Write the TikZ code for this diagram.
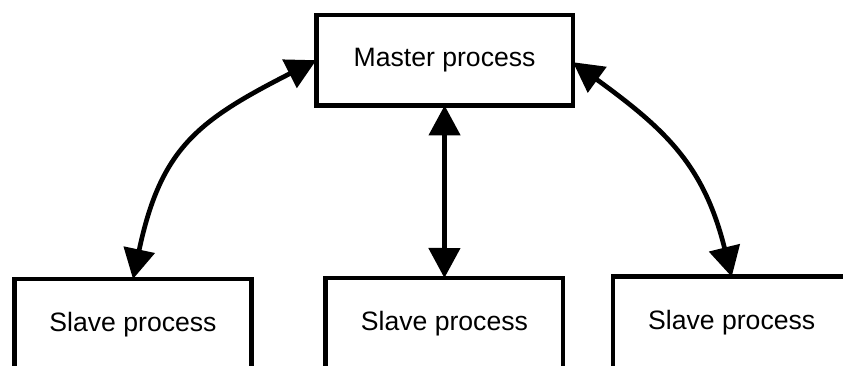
\documentclass[tikz,border=0pt]{standalone}
\usepackage{fontspec}
\setmainfont{Liberation Sans}
\usetikzlibrary{arrows.meta}
\begin{document}
\begin{tikzpicture}[x=1pt,y=1pt,
  box/.style={draw, line width=4.7pt, rectangle, outer sep=0pt, fill=white,
    font=\fontsize{26.6}{32}\selectfont},
  master/.style={box, minimum width=256.7pt, minimum height=90.5pt, inner sep=0pt},
  slave/.style={box, minimum width=237.4pt, inner xsep=0pt, inner ysep=0pt,
    text height=52.3pt, text depth=60pt, anchor=north},
  link/.style={line width=4.7pt, {Triangle[length=30pt,width=31pt]}-{Triangle[length=30pt,width=31pt]}}
]
\useasboundingbox (0,0) rectangle (843,365);
\clip (0,0) rectangle (843,365);

% master and worker boxes
\node[master] (m) at (444.6,304.8) {Master process};
\node[slave] (s1) at (133,86) {Slave process};
\node[slave] (s2) at (444.4,87) {Slave process};
\node[slave] (s3) at (731.7,88.2) {Slave process};

% two-way links
\draw[link] (m.west) to[out=207, in=78, looseness=1.2] (s1.north);
\draw[link] (m.south) -- (s2.north);
\draw[link] ([yshift=-2pt]m.east) to[out=-36, in=104, looseness=1.1] (s3.north);
\end{tikzpicture}
\end{document}
